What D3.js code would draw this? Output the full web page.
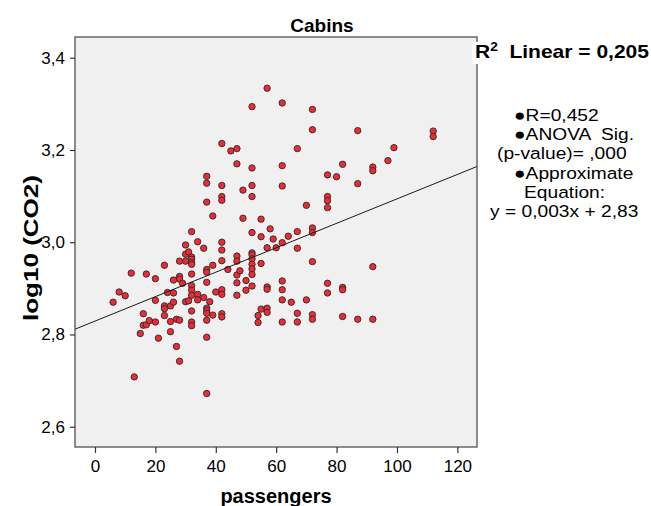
<!DOCTYPE html>
<html><head><meta charset="utf-8">
<script src="https://cdn.jsdelivr.net/npm/d3@7"></script>
<style>
body{margin:0;background:#fff}
svg{display:block}
text{font-family:"Liberation Sans",Arial,Helvetica,sans-serif;fill:#000;white-space:pre}
</style>
</head><body>
<svg id="chart" width="651" height="506"></svg>
<script>
// ---------- data ----------
const chartTitle = "Cabins";
const xLabel = "passengers";
const yLabel = "log10 (CO2)";
const xTicks = [0, 20, 40, 60, 80, 100, 120];
const yTicks = [2.6, 2.8, 3.0, 3.2, 3.4];
const fitIntercept = 2.829;
const fitSlope = 0.00265;
const r2Label = "0,205";
const annotationLines = ["\u25CFR=0,452", "\u25CFANOVA  Sig.", "(p-value)= ,000", "\u25CFApproximate", "Equation:", "y = 0,003x + 2,83"];

const passengers = [
  6, 8, 10, 12, 13, 15, 16, 16, 17, 17, 18,
  20, 20, 20, 21, 23, 23, 23, 23, 24, 25, 25, 25, 26, 26, 26, 27, 27,
  28, 28, 28, 28, 28, 29, 30, 30, 30, 30, 31, 31,
  32, 32, 32, 32, 32, 32, 32, 32, 32, 32, 32, 32,
  34, 34, 34, 36, 36,
  37, 37, 37, 37, 37, 37, 37, 37, 37, 37, 37, 37,
  38, 39, 39, 39, 40,
  42, 42, 42, 42, 42, 42, 42, 42, 42, 42, 42,
  44, 45, 47, 47, 47, 47, 47, 47, 47, 48, 49, 49, 50, 50,
  52, 52, 52, 52, 52, 52, 52, 52, 52, 52, 52, 52,
  54, 54, 55, 55, 55, 55, 57, 57, 57, 57, 57, 57, 58, 59, 60,
  62, 62, 62, 62, 62, 62, 62, 62, 64, 65, 67, 67, 67, 67, 67, 70, 70,
  72, 72, 72, 72, 72, 72, 72, 77, 77, 77, 77, 77, 77, 80,
  82, 82, 82, 82, 87, 87, 87, 92, 92, 92, 92, 97, 99, 112, 112
];
const log10CO2 = [
  2.870, 2.892, 2.884, 2.933, 2.708, 2.802, 2.845, 2.820, 2.931, 2.821, 2.830,
  2.921, 2.874, 2.827, 2.792, 2.950, 2.862, 2.856, 2.841, 2.891, 2.862, 2.828, 2.806, 2.918, 2.890, 2.870, 2.833, 2.774,
  2.959, 2.926, 2.920, 2.831, 2.742, 2.911, 2.994, 2.974, 2.959, 2.871, 2.979, 2.873,
  3.023, 2.968, 2.963, 2.956, 2.952, 2.931, 2.906, 2.896, 2.885, 2.851, 2.827, 2.819,
  3.001, 2.887, 2.875, 2.987, 2.880,
  3.143, 3.128, 3.087, 2.941, 2.935, 2.913, 2.857, 2.852, 2.846, 2.831, 2.794, 2.672,
  2.871, 3.057, 2.950, 2.842, 2.892,
  3.214, 3.123, 3.099, 3.091, 3.000, 2.983, 2.960, 2.897, 2.887, 2.845, 2.838,
  2.941, 3.198, 3.203, 3.170, 2.970, 2.959, 2.929, 2.912, 2.885, 2.938, 3.113, 3.052, 2.917, 2.896,
  3.294, 3.161, 3.123, 3.099, 3.021, 2.977, 2.973, 2.964, 2.952, 2.942, 2.930, 2.905,
  2.841, 2.826, 3.050, 3.012, 2.954, 2.855, 3.334, 2.988, 2.903, 2.898, 2.857, 2.848, 3.029, 3.007, 2.988,
  3.302, 3.166, 3.122, 2.999, 2.916, 2.897, 2.875, 2.827, 3.013, 2.870, 3.203, 3.023, 2.987, 2.846, 2.827, 3.080, 2.875,
  3.288, 3.244, 3.031, 3.021, 2.958, 2.843, 2.833, 3.146, 3.099, 3.090, 3.075, 2.911, 2.890, 3.142,
  3.169, 2.902, 2.897, 2.839, 3.242, 3.127, 2.833, 3.163, 3.155, 2.947, 2.833, 3.177, 3.205, 3.241, 3.229
];

// ---------- layout ----------
const svg = d3.select("#chart");
const plot = {left: 75, right: 477, top: 37, bottom: 447};
const x = d3.scaleLinear().domain([-6.62, 126.5]).range([plot.left, plot.right]);
const y = d3.scaleLinear().domain([2.556, 3.445]).range([plot.bottom, plot.top]);
const commaFmt = d => d3.format(".1f")(d).replace(".", ",");

svg.append("rect").attr("width", 651).attr("height", 506).attr("fill", "#fff");

svg.append("rect")
  .attr("x", plot.left).attr("y", plot.top)
  .attr("width", plot.right - plot.left).attr("height", plot.bottom - plot.top)
  .attr("fill", "#f0f0f0");

svg.append("clipPath").attr("id", "clip").append("rect")
  .attr("x", plot.left).attr("y", plot.top)
  .attr("width", plot.right - plot.left).attr("height", plot.bottom - plot.top);

// points
const pts = passengers.map((p, i) => ({p, v: log10CO2[i]}));
svg.append("g").attr("clip-path", "url(#clip)")
  .selectAll("circle").data(pts).join("circle")
  .attr("cx", d => x(d.p)).attr("cy", d => y(d.v)).attr("r", 3.2)
  .attr("fill", "#ee2b35").attr("stroke", "#2a2a2a").attr("stroke-width", 0.9);

// fit line
const xd = x.domain();
svg.append("g").attr("clip-path", "url(#clip)").append("line")
  .attr("x1", x(xd[0])).attr("y1", y(fitIntercept + fitSlope * xd[0]))
  .attr("x2", x(xd[1])).attr("y2", y(fitIntercept + fitSlope * xd[1]))
  .attr("stroke", "#1a1a1a").attr("stroke-width", 1);

// frame
svg.append("rect")
  .attr("x", plot.left).attr("y", plot.top)
  .attr("width", plot.right - plot.left).attr("height", plot.bottom - plot.top)
  .attr("fill", "none").attr("stroke", "#505050").attr("stroke-width", 1.3);

// axes
const gx = svg.append("g").attr("transform", `translate(0,${plot.bottom})`)
  .call(d3.axisBottom(x).tickValues(xTicks).tickSize(6).tickPadding(7).tickFormat(d3.format("d")));
const gy = svg.append("g").attr("transform", `translate(${plot.left},0)`)
  .call(d3.axisLeft(y).tickValues(yTicks).tickSize(5).tickPadding(5).tickFormat(commaFmt));
[gx, gy].forEach(g => {
  g.select(".domain").remove();
  g.selectAll(".tick line").attr("stroke", "#333").attr("stroke-width", 1.2);
  g.selectAll(".tick text").attr("font-size", 17).attr("font-family", "Liberation Sans, Arial, sans-serif").attr("fill", "#000");
});

// title
svg.append("text").attr("x", 322).attr("y", 32).attr("text-anchor", "middle")
  .attr("font-size", 19).attr("font-weight", "bold").text(chartTitle);

// x label
svg.append("text").attr("x", 276).attr("y", 503).attr("text-anchor", "middle")
  .attr("font-size", 20).attr("font-weight", "bold").text(xLabel);

// y label
svg.append("text").attr("transform", `translate(38,248) rotate(-90)`)
  .attr("text-anchor", "middle").attr("font-size", 20).attr("font-weight", "bold")
  .attr("textLength", 146).attr("lengthAdjust", "spacingAndGlyphs").text(yLabel);

// R2 label
svg.append("rect").attr("x", 472).attr("y", 42).attr("width", 179).attr("height", 22).attr("fill", "#fff");
const r2 = svg.append("text").attr("x", 475).attr("y", 58).attr("font-size", 18.5).attr("font-weight", "bold")
  .attr("textLength", 174).attr("lengthAdjust", "spacingAndGlyphs");
r2.append("tspan").text("R");
r2.append("tspan").attr("font-size", 12).attr("dy", -7).text("2");
r2.append("tspan").attr("dy", 7).text("  Linear = " + r2Label);

// annotations (slightly widened glyphs, as in the original export)
const annX = [514, 514, 497, 514, 524, 490];
svg.append("g").selectAll("text").data(annotationLines).join("text")
  .attr("transform", (d, i) => `translate(${annX[i]},${121 + i * 19.2}) scale(1.13,1)`)
  .attr("font-size", 17)
  .text(d => d);
</script>
</body></html>
